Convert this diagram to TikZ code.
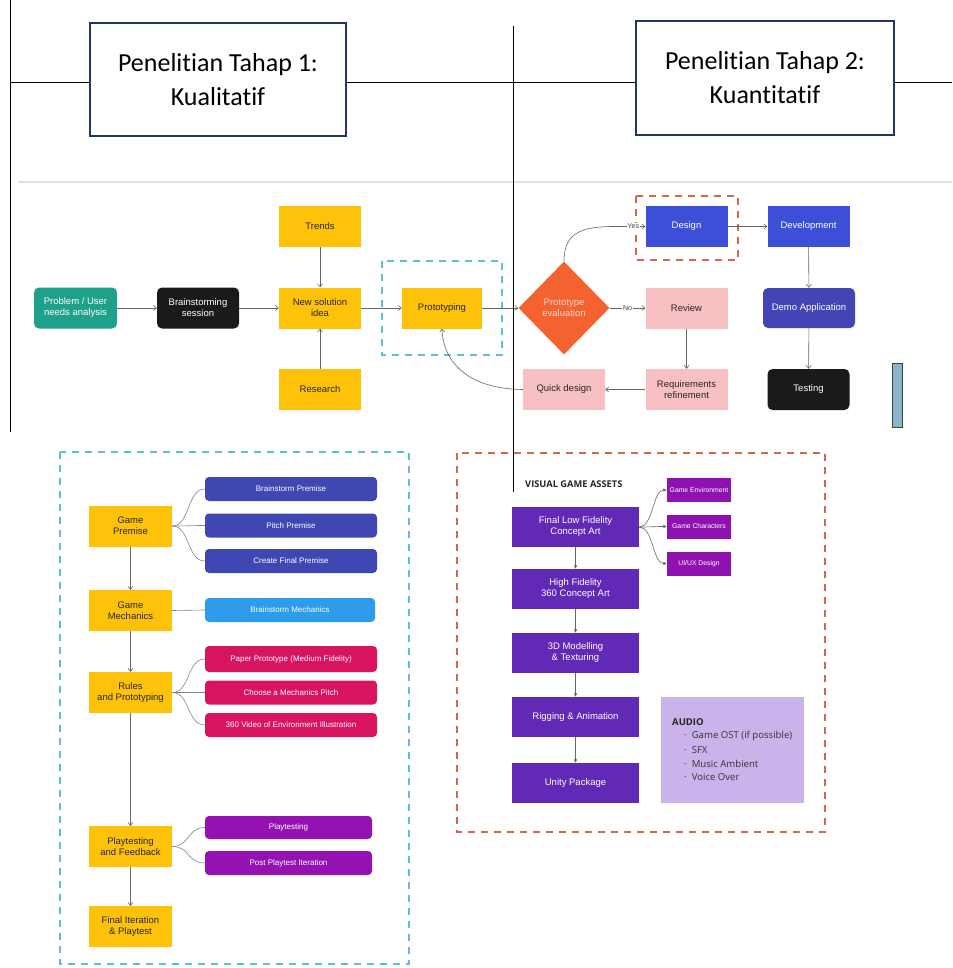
\documentclass[tikz,border=0pt]{standalone}
\usepackage{fontspec}
\setmainfont{Liberation Sans}
\newfontfamily\calib[Ligatures=NoCommon]{Carlito}
\newfontfamily\opens{Open Sans}
\usetikzlibrary{arrows.meta,shapes.geometric}
\definecolor{cteal}{HTML}{1FA08A}
\definecolor{cyel}{HTML}{FFC20A}
\definecolor{cblk}{HTML}{1A1A1A}
\definecolor{corange}{HTML}{F4622F}
\definecolor{cblue}{HTML}{3D4FD6}
\definecolor{cpink}{HTML}{F7C0C2}
\definecolor{cdemo}{HTML}{4444B4}
\definecolor{cindigo}{HTML}{3F47B3}
\definecolor{clblue}{HTML}{2C9CEB}
\definecolor{ccrim}{HTML}{D8145E}
\definecolor{cppl}{HTML}{9412B2}
\definecolor{cvis}{HTML}{6129B5}
\definecolor{cmag}{HTML}{8F12B0}
\definecolor{claven}{HTML}{C9B3EA}
\definecolor{ccyan}{HTML}{5BC3CF}
\definecolor{codash}{HTML}{D2694A}
\definecolor{carrow}{HTML}{666666}
\definecolor{cnavy}{HTML}{203864}
\definecolor{cbar}{HTML}{8CB4CB}
\definecolor{cdiatxt}{HTML}{FCD6C9}
\begin{document}
\begin{tikzpicture}[x=1pt,y=-1pt,
  fc/.style={rectangle, inner sep=1pt, align=center, font=\fontsize{9.5}{11}\selectfont, minimum width=82, minimum height=41},
  yel/.style={fc, fill=cyel, text=black!85},
  pnk/.style={fc, fill=cpink, text=black!85},
  blu/.style={fc, fill=cblue, text=white},
  rnd/.style={rounded corners=5pt},
  pill/.style={rectangle, rounded corners=4pt, inner sep=1pt, align=center, text=white, font=\fontsize{8}{9.5}\selectfont, minimum width=172, minimum height=24},
  vis/.style={fc, fill=cvis, text=white, minimum width=127, minimum height=40},
  small/.style={rectangle, inner sep=1pt, fill=cmag, text=white, font=\fontsize{6.8}{8}\selectfont, minimum width=64, minimum height=24},
  arr/.style={draw=carrow, line width=0.6pt, -{Straight Barb[length=3pt,width=5pt]}},
  ln/.style={draw=carrow!80, line width=0.6pt},
  darr/.style={draw=carrow, line width=0.6pt, -{Latex[length=3.5pt,width=3.5pt]}},
  topbox/.style={rectangle, draw=cnavy, line width=2pt, fill=white, align=center, font=\calib\fontsize{26}{34}\selectfont, minimum width=256, minimum height=113},
  blk/.style={draw=black, line width=1pt},
  cdsh/.style={draw=ccyan, line width=2.2pt, dash pattern=on 7pt off 6pt},
  odsh/.style={draw=codash, line width=2.2pt, dash pattern=on 7pt off 6pt},
  lbl/.style={fill=white, inner sep=1pt, font=\fontsize{7}{8}\selectfont, text=black!75}
]
\useasboundingbox (0,0) rectangle (952,968);
\fill[white] (0,0) rectangle (952,968);

% separator
\draw[black!12, line width=1.5pt] (18,182) -- (952,182);

% ---------- top flow ----------
\draw[cdsh] (382,261) rectangle (502,355);
\draw[odsh] (636,196) rectangle (738,260);

\node[fc, rnd, fill=cteal, text=white, minimum width=83] (prob) at (75.5,308) {Problem / User\\needs analysis};
\node[fc, rnd, fill=cblk, text=white] (brain) at (198,308) {Brainstorming\\session};
\node[yel] (newsol) at (320,308) {New solution\\idea};
\node[yel] (trends) at (320,226.5) {Trends};
\node[yel] (research) at (320,389.5) {Research};
\node[yel, minimum width=80] (proto) at (442,308) {Prototyping};
\node[diamond, fill=corange, text=cdiatxt, inner sep=0pt, minimum width=91, minimum height=93, align=center, font=\fontsize{9.5}{11}\selectfont] (dia) at (564,308) {Prototype\\evaluation};
\node[blu] (design) at (686.5,226.5) {Design};
\node[blu] (dev) at (808.5,226.5) {Development};
\node[pnk] (review) at (686.5,308) {Review};
\node[fc, rnd, fill=cdemo, text=white, minimum width=92, minimum height=40] (demo) at (809,308) {Demo Application};
\node[pnk] (qd) at (564,389.5) {Quick design};
\node[pnk] (req) at (686.5,389.5) {Requirements\\refinement};
\node[fc, rnd, fill=cblk, text=white] (test) at (808.5,389.5) {Testing};
\node[rectangle, fill=cbar, draw=black!75, line width=1.2pt, minimum width=10, minimum height=64, inner sep=0] (bar) at (897.5,395.5) {};

\draw[arr] (prob) -- (brain);
\draw[arr] (brain) -- (newsol);
\draw[arr] (trends) -- (newsol);
\draw[arr] (research) -- (newsol);
\draw[arr] (newsol) -- (proto);
\draw[arr] (proto) -- (dia);
\draw[arr] (dia.north) .. controls (564,230) and (585,226) .. ([xshift=-24]design.west) -- node[lbl]{Yes} (design.west);
\draw[arr] (dia.east) -- node[lbl]{No} (review.west);
\draw[arr] (design) -- (dev);
\draw[arr] (dev) -- (demo);
\draw[arr] (demo) -- (test);
\draw[arr] (review) -- (req);
\draw[arr] (req) -- (qd);
\draw[arr] (qd.west) .. controls (468,389) and (443,362) .. (proto.south);

% ---------- lower left ----------
\draw[cdsh] (60,452) rectangle (409,964);
\node[yel, minimum width=83] (gp) at (130.5,526) {Game\\Premise};
\node[yel, minimum width=83] (gm) at (130.5,610.5) {Game\\Mechanics};
\node[yel, minimum width=83] (rp) at (130.5,692.5) {Rules\\and Prototyping};
\node[yel, minimum width=83] (pf) at (130.5,846.5) {Playtesting\\and Feedback};
\node[yel, minimum width=83] (fi) at (130.5,926.5) {Final Iteration\\\& Playtest};

\node[pill, fill=cindigo] (bp) at (291,489) {Brainstorm Premise};
\node[pill, fill=cindigo] (pp) at (291,525.5) {Pitch Premise};
\node[pill, fill=cindigo] (cfp) at (291,561) {Create Final Premise};
\node[pill, fill=clblue, minimum width=170] (bm) at (290,610) {Brainstorm Mechanics};
\node[pill, fill=ccrim, minimum height=26] (ppm) at (291,659) {Paper Prototype (Medium Fidelity)};
\node[pill, fill=ccrim] (cmp) at (291,692.5) {Choose a Mechanics Pitch};
\node[pill, fill=ccrim] (v360) at (291,725) {360 Video of Environment Illustration};
\node[pill, fill=cppl, minimum width=167, minimum height=23] (pt) at (288.5,827.5) {Playtesting};
\node[pill, fill=cppl, minimum width=167] (ppi) at (288.5,863) {Post Playtest Iteration};

\draw[arr] (gp) -- (gm);
\draw[arr] (gm) -- (rp);
\draw[arr] (rp) -- (pf);
\draw[arr] (pf) -- (fi);
\foreach \t in {bp,pp,cfp}{\draw[ln] (gp.east) .. controls +(18,0) and +(-18,0) .. (\t.west);}
\draw[ln] (gm.east) -- (bm.west);
\foreach \t in {ppm,cmp,v360}{\draw[ln] (rp.east) .. controls +(18,0) and +(-18,0) .. (\t.west);}
\foreach \t in {pt,ppi}{\draw[ln] (pf.east) .. controls +(18,0) and +(-18,0) .. (\t.west);}

% ---------- lower right ----------
\draw[odsh] (457,453) rectangle (825,832);
\node[anchor=west, font=\opens\bfseries\fontsize{9.3}{10}\selectfont, text=black!85, inner sep=0] (vga) at (525,484) {VISUAL GAME ASSETS};
\node[vis] (fl) at (575.5,527) {Final Low Fidelity\\Concept Art};
\node[vis] (hf) at (575.5,589) {High Fidelity\\360 Concept Art};
\node[vis] (m3d) at (575.5,653) {3D Modelling\\\& Texturing};
\node[vis] (rig) at (575.5,717) {Rigging \& Animation};
\node[vis] (unity) at (575.5,783) {Unity Package};
\node[small] (ge) at (699,490) {Game Environment};
\node[small] (gc) at (699,526.5) {Game Characters};
\node[small] (ui) at (699,563.5) {UI/UX Design};
\draw[darr] (fl) -- (hf);
\draw[darr] (hf) -- (m3d);
\draw[darr] (m3d) -- (rig);
\draw[darr] (rig) -- (unity);
\foreach \t in {ge,gc,ui}{\draw[darr] (fl.east) .. controls +(14,0) and +(-14,0) .. (\t.west);}

\node[rectangle, fill=claven, minimum width=143, minimum height=106, inner sep=0] (audio) at (732.5,750) {};
\node[anchor=west, inner sep=0, font=\opens\bfseries\fontsize{9.5}{11}\selectfont, text=black!85] (audt) at (672,722) {AUDIO};
\foreach \yy/\tx [count=\i] in {736/Game OST (if possible),750/SFX,764/Music Ambient,777/Voice Over}{
  \node[anchor=west, inner sep=0, font=\opens\fontsize{9.6}{10}\selectfont, text=black!80] (ai\i) at (684,\yy) {·\hspace{5pt}\tx};
}

% ---------- top boxes and lines ----------
\node[topbox] (box1) at (218,79.5) {Penelitian Tahap 1:\\Kualitatif};
\node[topbox, minimum width=258, minimum height=114] (box2) at (765,78) {Penelitian Tahap 2:\\Kuantitatif};
\coordinate (l0) at (10,0);
\coordinate (l0b) at (10,432);
\coordinate (h0) at (10,83);
\coordinate (h9) at (952,83);
\coordinate (m0) at (513,26);
\coordinate (m1) at (513,492);
\draw[blk] (l0) -- (l0b);
\draw[blk] (h0) -- (box1.west |- h0);
\draw[blk] (box1.east |- h0) -- (box2.west |- h0);
\draw[blk] (box2.east |- h0) -- (h9);
\draw[blk] (m0) -- (m1);
\end{tikzpicture}
\end{document}
